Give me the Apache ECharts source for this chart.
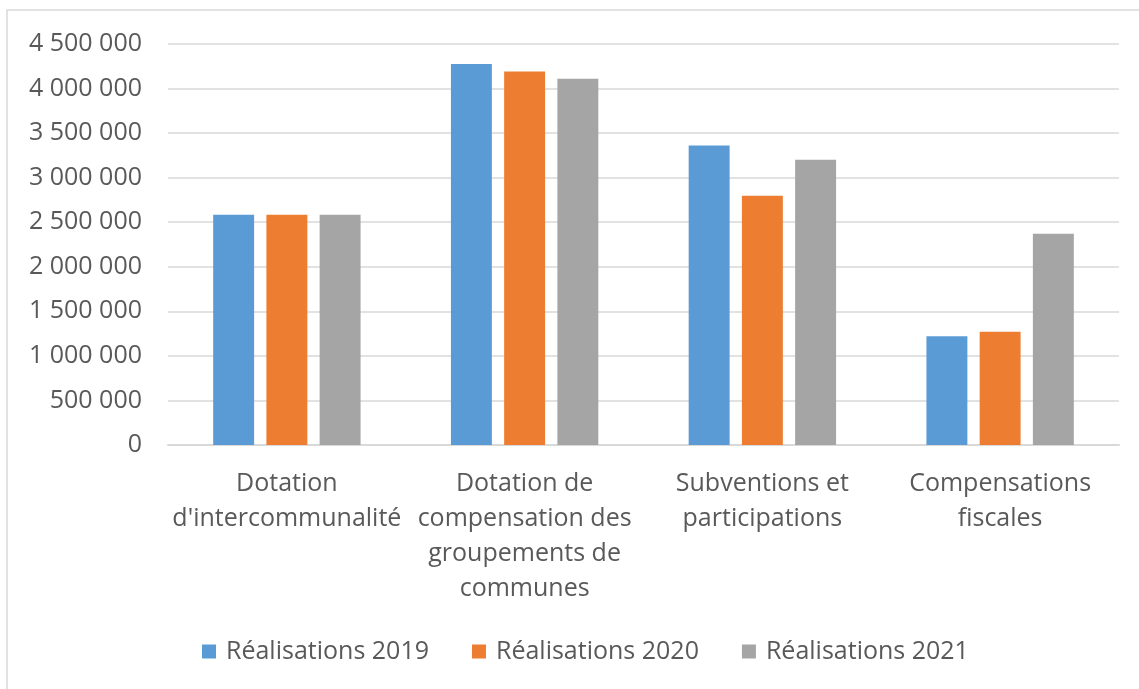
<!DOCTYPE html>
<html>
<head>
<meta charset="utf-8">
<script src="https://cdn.jsdelivr.net/npm/echarts@6/dist/echarts.min.js"></script>
<style>
  html, body { margin: 0; padding: 0; background: #fff; }
  #chart { width: 1139px; height: 689px; }
</style>
</head>
<body>
<div id="chart"></div>
<script>
// catégories de l'axe x (retours à la ligne comme sur l'original)
var categories = [
  "Dotation\nd'intercommunalité",
  'Dotation de\ncompensation des\ngroupements de\ncommunes',
  'Subventions et\nparticipations',
  'Compensations\nfiscales'
]
var seriesNames = ['Réalisations 2019', 'Réalisations 2020', 'Réalisations 2021']
var real2019 = [2584000, 4276000, 3362000, 1219000]
var real2020 = [2584000, 4192000, 2798000, 1271000]
var real2021 = [2584000, 4111000, 3202000, 2371000]
var colors = ['#5b9bd5', '#ed7d31', '#a5a5a5']

var textColor = '#595959'
var fontFamily = '"Open Sans", sans-serif'

function formatNumber (v) {
  return String(v).replace(/\B(?=(\d{3})+(?!\d))/g, ' ')
}

function makeSeries (name, data, color) {
  return {
    name: name,
    type: 'bar',
    data: data,
    barGap: '30%',
    barCategoryGap: '38%',
    itemStyle: { color: color }
  }
}

var chart = echarts.init(document.getElementById('chart'))
chart.setOption({
  animation: false,
  textStyle: { fontFamily: fontFamily },
  grid: { left: 168, right: 20, top: 44, bottom: 244, containLabel: false },
  // cadre gris clair autour du graphique
  graphic: [{
    type: 'rect',
    shape: { x: 7, y: 10, width: 1200, height: 720 },
    style: { fill: 'none', stroke: '#d9d9d9', lineWidth: 1.5 },
    silent: true
  }],
  legend: {
    bottom: 20,
    left: 197,
    itemWidth: 14,
    itemHeight: 14,
    itemGap: 43,
    icon: 'rect',
    textStyle: { color: textColor, fontSize: 25, fontFamily: fontFamily, padding: [0, 0, 0, 5] },
    data: seriesNames
  },
  xAxis: {
    type: 'category',
    data: categories,
    axisTick: { show: false },
    axisLine: { lineStyle: { color: '#d9d9d9', width: 2 } },
    axisLabel: {
      color: textColor,
      fontSize: 25,
      lineHeight: 35,
      margin: 21,
      interval: 0,
      align: 'center'
    }
  },
  yAxis: {
    type: 'value',
    min: 0,
    max: 4500000,
    interval: 500000,
    axisLine: { show: false },
    axisTick: { show: false },
    splitLine: { lineStyle: { color: '#d9d9d9', width: 1.5 } },
    axisLabel: {
      color: textColor,
      fontSize: 25,
      margin: 26,
      formatter: formatNumber
    }
  },
  series: [
    makeSeries(seriesNames[0], real2019, colors[0]),
    makeSeries(seriesNames[1], real2020, colors[1]),
    makeSeries(seriesNames[2], real2021, colors[2])
  ]
})
</script>
</body>
</html>
